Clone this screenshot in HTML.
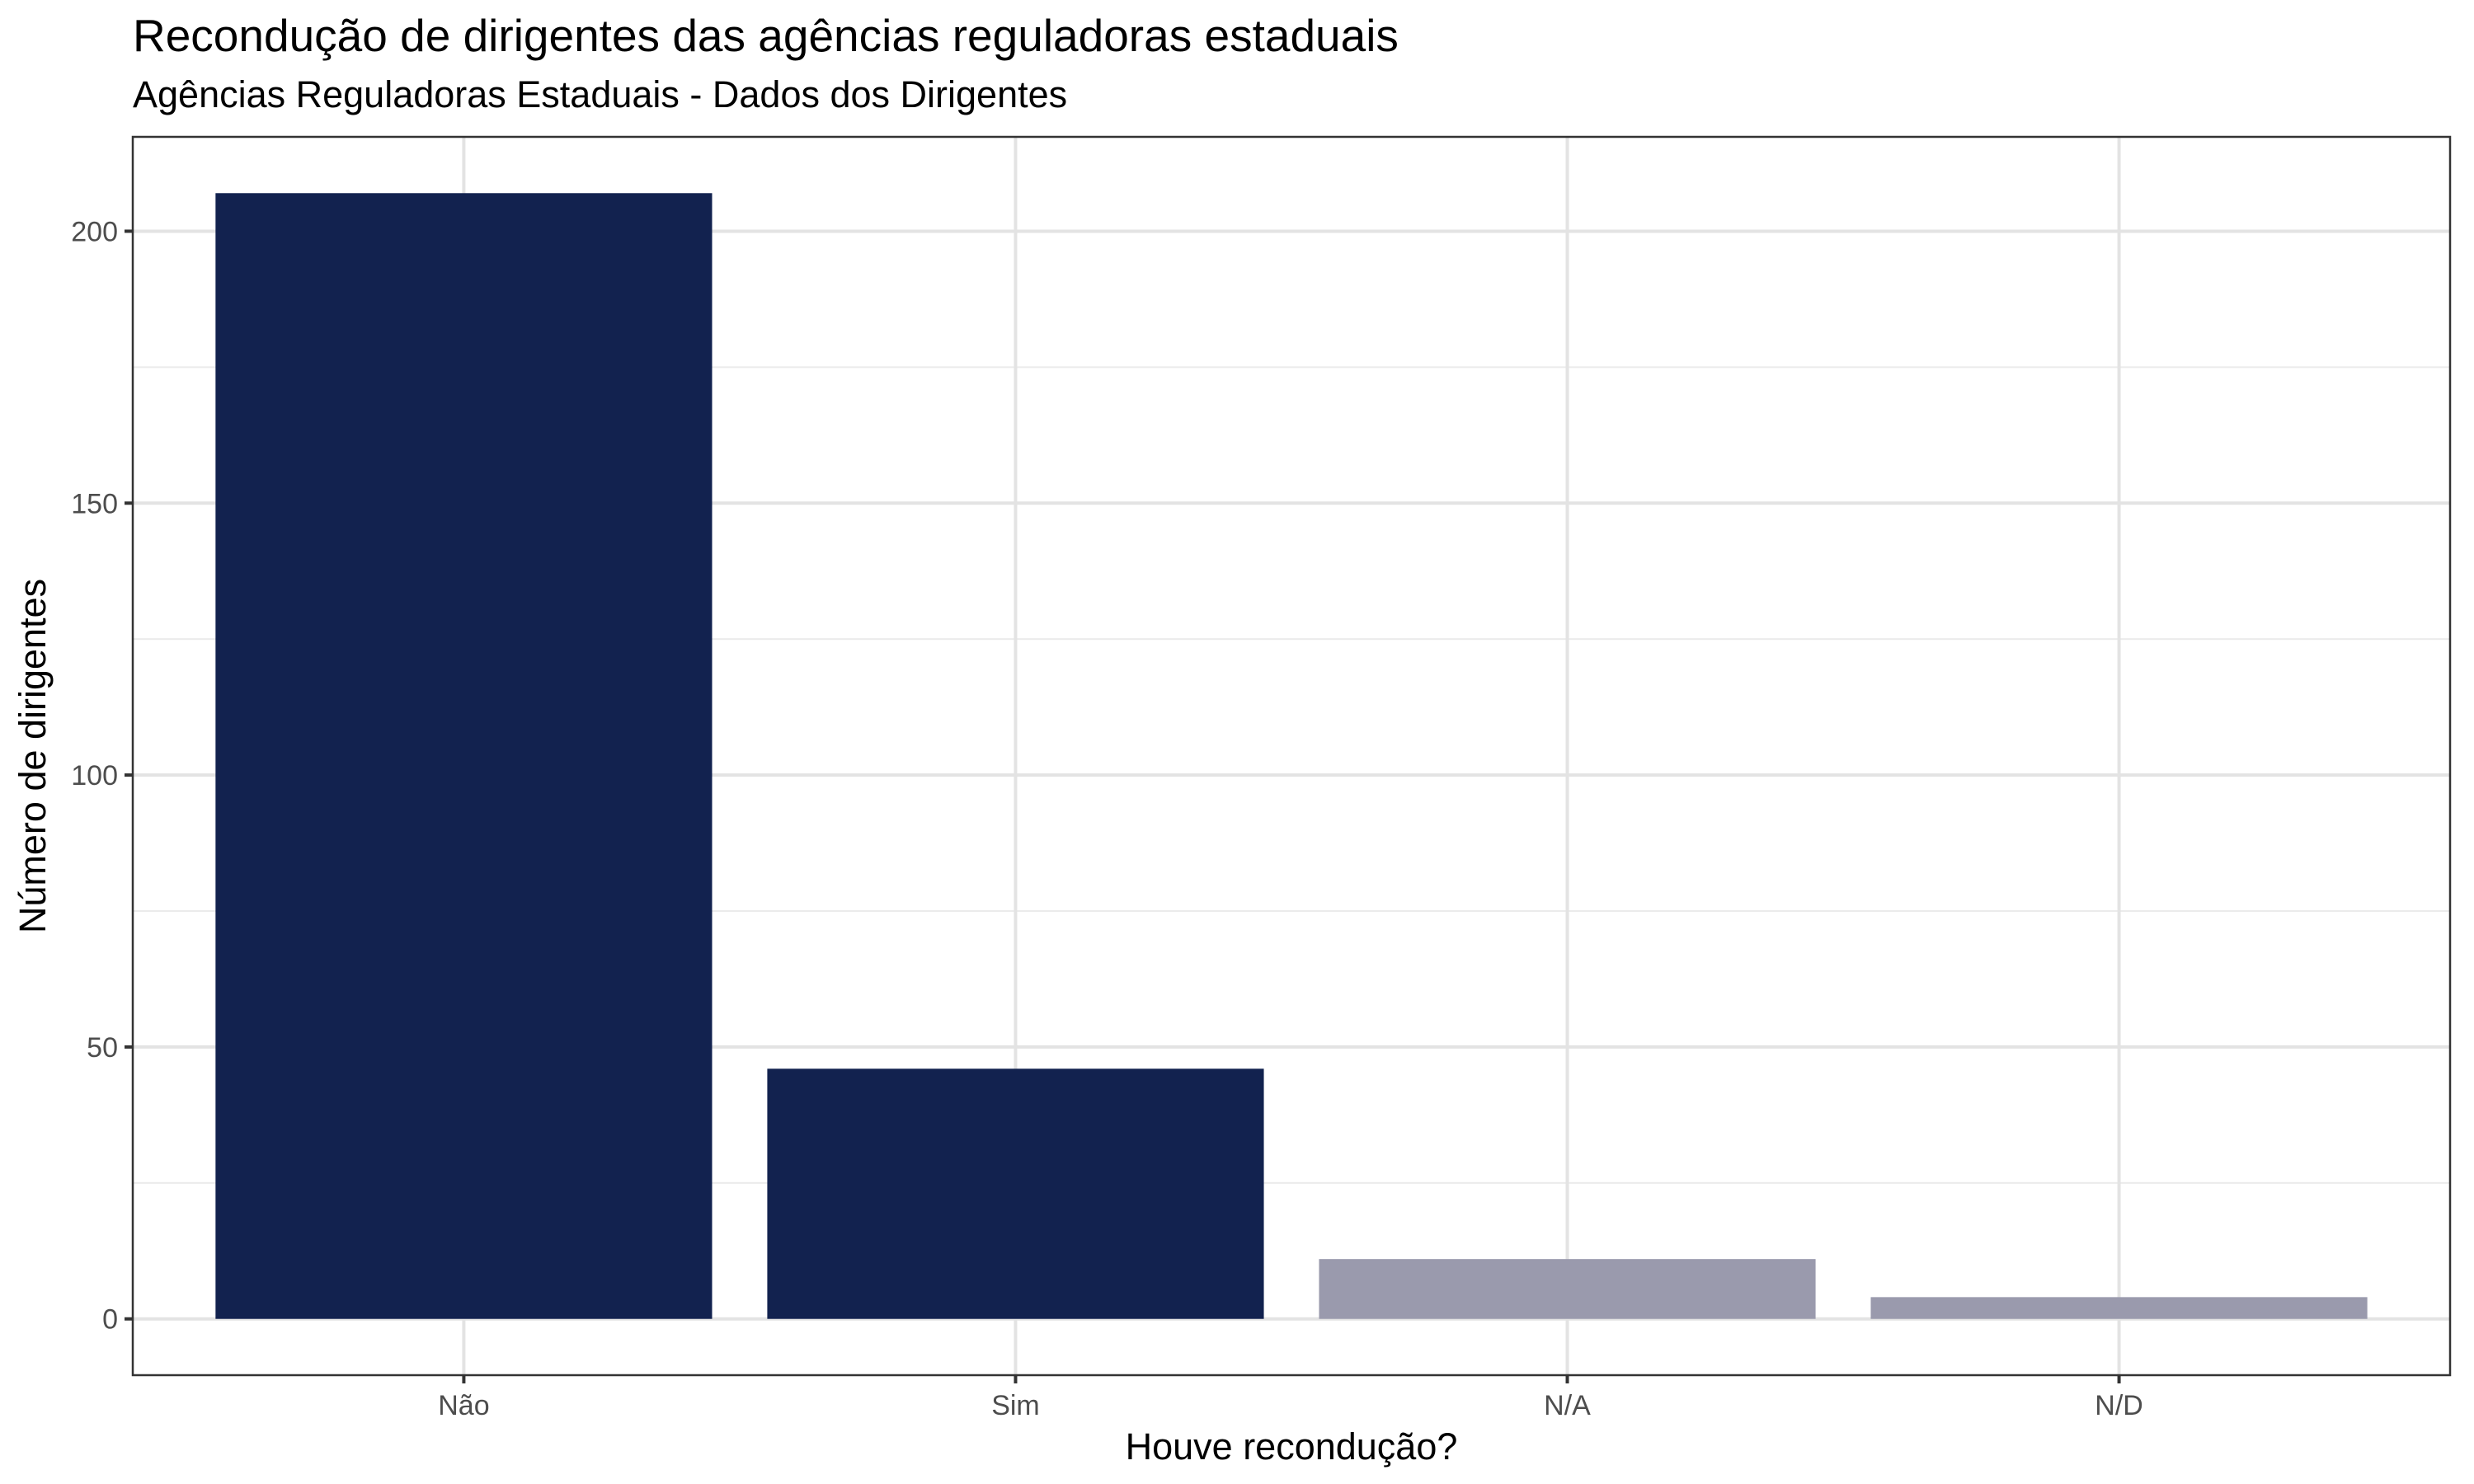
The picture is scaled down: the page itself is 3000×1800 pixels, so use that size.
<!DOCTYPE html>
<html><head><meta charset="utf-8"><style>
html,body{margin:0;padding:0;background:#fff;}
svg{display:block;font-family:"Liberation Sans",Arial,sans-serif;}
</style></head><body>
<svg id="chart" width="3000" height="1800" viewBox="0 0 3000 1800">
<text x="161" y="62" font-size="55" fill="#000">Recondução de dirigentes das agências reguladoras estaduais</text>
<text x="161" y="130" font-size="45" fill="#000">Agências Reguladoras Estaduais - Dados dos Dirigentes</text>
<g id="grid"></g><g id="bars"></g><g id="axes"></g>
<text x="1566" y="1770" font-size="45" text-anchor="middle" fill="#000">Houve recondução?</text>
<text transform="translate(55,917) rotate(-90)" font-size="45" text-anchor="middle" fill="#000">Número de dirigentes</text>
</svg>
<script>
const categories = ["Não","Sim","N/A","N/D"];
const values = [207,46,11,4];
const colors = ["#12224f","#12224f","#9a9aad","#9a9aad"];
const yTicks = [0,50,100,150,200];
const yMinor = [25,75,125,175];
const NS="http://www.w3.org/2000/svg";
const L=161,R=2971,T=166,B=1668;
const maxV=Math.max(...values);
const y0=-0.05*maxV,y1=maxV*1.05;
function ys(v){return B-(v-y0)/(y1-y0)*(B-T);}
const unit=(R-L)/(categories.length-1+1.2);
function xs(i){return L+(0.6+i)*unit;}
function mk(tag,attrs,parent){const e=document.createElementNS(NS,tag);for(const k in attrs)e.setAttribute(k,attrs[k]);parent.appendChild(e);return e;}
const grid=document.getElementById('grid'),bars=document.getElementById('bars'),axes=document.getElementById('axes');
mk('rect',{x:L,y:T,width:R-L,height:B-T,fill:'#fff'},grid);
yMinor.forEach(v=>{const l=mk('line',{x1:L,x2:R,y1:ys(v),y2:ys(v),stroke:'#ebebeb','stroke-width':2},grid);

});
yTicks.forEach(v=>{const l=mk('line',{x1:L,x2:R,y1:ys(v),y2:ys(v),stroke:'#e3e3e3','stroke-width':4},grid);


const t=mk('line',{x1:L-10,x2:L,y1:ys(v),y2:ys(v),stroke:'#333','stroke-width':4},axes);


const tx=mk('text',{x:L-18,y:ys(v)+12,'font-size':34,'text-anchor':'end',fill:'#4d4d4d'},axes);tx.textContent=v;

});
categories.forEach((c,i)=>{const l=mk('line',{x1:xs(i),x2:xs(i),y1:T,y2:B,stroke:'#e3e3e3','stroke-width':4},grid);


const w=0.9*unit;
const b=mk('rect',{x:xs(i)-w/2,y:ys(values[i]),width:w,height:ys(0)-ys(values[i]),fill:colors[i]},bars);


const t=mk('line',{x1:xs(i),x2:xs(i),y1:B,y2:B+10,stroke:'#333','stroke-width':4},axes);


const tx=mk('text',{x:xs(i),y:B+48,'font-size':34,'text-anchor':'middle',fill:'#4d4d4d'},axes);tx.textContent=c;

});
const fr=mk('rect',{x:L,y:T,width:R-L,height:B-T,fill:'none',stroke:'#333','stroke-width':2.5},axes);


</script>
</body></html>
